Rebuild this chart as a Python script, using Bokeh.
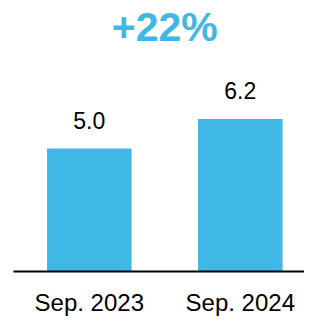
from bokeh.plotting import figure
from bokeh.models import Range1d, Label, ColumnDataSource
from bokeh.core.properties import value
from bokeh.embed import file_html
from bokeh.resources import INLINE

categories = ["Sep. 2023", "Sep. 2024"]
values = [5.0, 6.2]
value_labels = ["5.0", "6.2"]
change_label = "+22%"

BLUE = "#3FB8E6"
FONT = "Liberation Sans"

W, H = 304, 316
px_per_x = 151.0       # pixels between bar centres
px_per_y = 24.6        # pixels per unit of value
x0_px = 88.8           # first bar centre from left edge
y0_px = 45.0           # baseline from bottom edge
x_start = -x0_px / px_per_x
y_start = -y0_px / px_per_y

idx = list(range(len(categories)))
src = ColumnDataSource(dict(x=idx, top=values, lab=value_labels, cat=categories,
                            zero=[0] * len(idx)))

p = figure(width=W, height=H, output_backend="svg", toolbar_location=None,
           x_range=Range1d(x_start, x_start + W / px_per_x),
           y_range=Range1d(y_start, y_start + H / px_per_y),
           min_border=0, outline_line_color=None)
p.axis.visible = False
p.grid.visible = False
p.background_fill_color = "white"
p.border_fill_color = "white"

p.vbar(x="x", top="top", bottom=0, width=84.5 / px_per_x, source=src,
       fill_color=BLUE, line_color=None)

# baseline
p.segment(x0=[x_start + 13 / px_per_x], x1=[x_start + W / px_per_x], y0=[0], y1=[0],
          line_color="black", line_width=2)

p.text(x="x", y="top", text="lab", source=src, text_align="center",
       text_baseline="alphabetic", y_offset=-28, text_font=value(FONT),
       text_font_size="23px", text_color="black")

p.text(x="x", y="zero", text="cat", source=src, text_align="center",
       text_baseline="alphabetic", y_offset=31, text_font=value(FONT),
       text_font_size="24px", text_color="black")

p.add_layout(Label(x=sum(idx) / len(idx), y=H - 26, x_units="data", y_units="screen",
                   text=change_label, text_align="center", text_baseline="alphabetic",
                   text_font=FONT, text_font_size="41px", text_font_style="bold",
                   text_color=BLUE))

open("out.html", "w").write(file_html(p, INLINE))
